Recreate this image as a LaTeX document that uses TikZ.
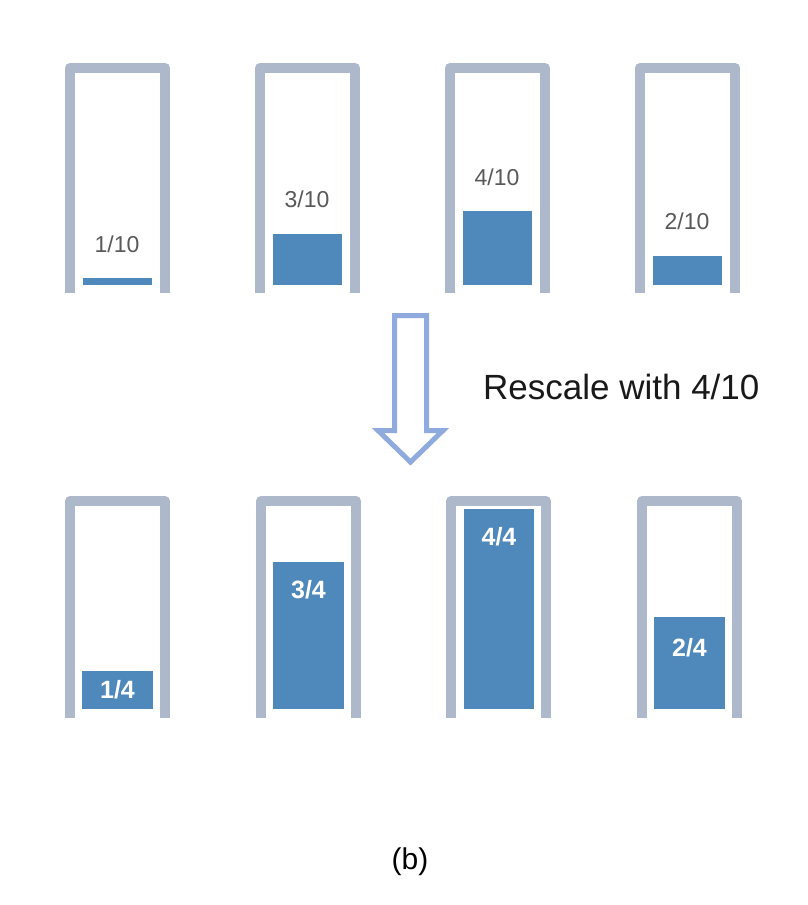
\documentclass[tikz,border=0pt]{standalone}
\usepackage{fontspec}
\setmainfont{Liberation Sans}
\definecolor{frame}{HTML}{ADB9CA}
\definecolor{bar}{HTML}{4F88BB}
\definecolor{lbl}{HTML}{595959}
\definecolor{arr}{HTML}{8FAADC}
\begin{document}
\begin{tikzpicture}[x=1pt,y=-1pt,
  holder/.style={draw=frame,line width=10pt,line join=round},
  fill bar/.style={fill=bar,draw=none},
  toplbl/.style={text=lbl,font=\fontsize{23}{23}\selectfont,inner sep=0pt},
  botlbl/.style={text=white,font=\fontsize{25}{25}\selectfont\bfseries,inner sep=0pt},
  bigarrow/.style={draw=arr,line width=5pt,line join=miter,fill=white}]
\useasboundingbox[fill=white] (0,0) rectangle (808,905);
% top row containers
\foreach \X in {65,255,445,635}{
  \draw[holder] (\X+5,293) -- (\X+5,68) -- (\X+100,68) -- (\X+100,293);
}
% bottom row containers
\foreach \X in {65,256,446,637}{
  \draw[holder] (\X+5,718) -- (\X+5,501) -- (\X+100,501) -- (\X+100,718);
}
% top bars
\fill[fill bar] (83,278) rectangle (152,285);
\fill[fill bar] (273,234) rectangle (342,285);
\fill[fill bar] (463,211) rectangle (532,285);
\fill[fill bar] (653,256) rectangle (722,285);
\node[toplbl] (t1) at (117,244) {1/10};
\node[toplbl] (t2) at (307,199) {3/10};
\node[toplbl] (t3) at (497,177) {4/10};
\node[toplbl] (t4) at (687,221) {2/10};
% bottom bars
\fill[fill bar] (82,671) rectangle (153,709);
\fill[fill bar] (273,562) rectangle (344,709);
\fill[fill bar] (464,509) rectangle (534,709);
\fill[fill bar] (654,617) rectangle (725,709);
\node[botlbl] (b1) at (117.5,690) {1/4};
\node[botlbl] (b2) at (308.5,590) {3/4};
\node[botlbl] (b3) at (499,537) {4/4};
\node[botlbl] (b4) at (689.5,648) {2/4};
% arrow
\draw[bigarrow] (394.5,315.5) -- (426.5,315.5) -- (426.5,430.5) -- (443,430.5)
  -- (410.5,462) -- (378,430.5) -- (394.5,430.5) -- cycle;
\node[anchor=base west,inner sep=0pt,text=black!90,font=\fontsize{35}{35}\selectfont] (rs) at (483,399) {Rescale with 4/10};
\node[inner sep=0pt,font=\fontsize{30}{30}\selectfont] (cap) at (410,862) {(b)};
\end{tikzpicture}
\end{document}
